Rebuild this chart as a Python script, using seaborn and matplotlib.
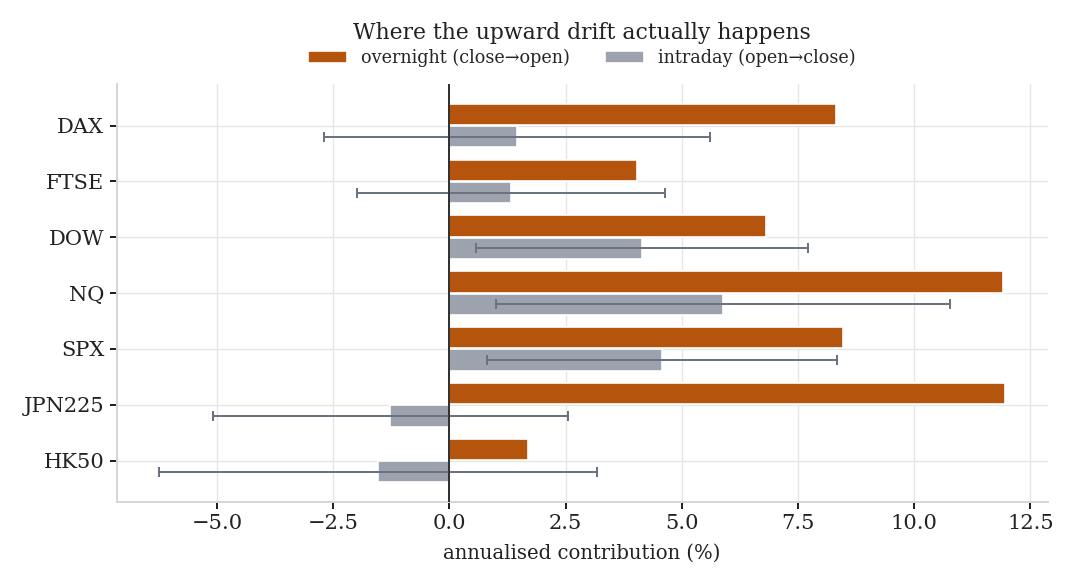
import numpy as np
import pandas as pd
import matplotlib
matplotlib.use("Agg")
import matplotlib.pyplot as plt
import seaborn as sns

# Index names, top to bottom
indices = ["DAX", "FTSE", "DOW", "NQ", "SPX", "JPN225", "HK50"]

# Annualised contribution (%)
overnight = [8.32, 4.04, 6.81, 11.90, 8.47, 11.96, 1.70]
intraday = [1.46, 1.33, 4.15, 5.89, 4.57, -1.27, -1.53]
# half-width of the intraday error bars
intraday_err = [4.15, 3.31, 3.57, 4.89, 3.77, 3.82, 4.71]

series_names = ["overnight (close\u2192open)", "intraday (open\u2192close)"]
colors = ["#b5540c", "#9ca3af"]

# long table for seaborn
df = pd.DataFrame({
    "index": indices * 2,
    "value": overnight + intraday,
    "session": [series_names[0]] * len(indices) + [series_names[1]] * len(indices),
})

sns.set_theme(style="whitegrid")
plt.rcParams["font.family"] = ["DejaVu Serif", "DejaVu Sans"]

fig, ax = plt.subplots(figsize=(9, 4.875), dpi=120)
fig.subplots_adjust(left=0.108, right=0.970, top=0.856, bottom=0.142)

sns.barplot(data=df, y="index", x="value", hue="session", order=indices,
            hue_order=series_names, palette=colors, orient="h",
            width=0.8, gap=0.05, errorbar=None, saturation=1, ax=ax, zorder=2)

# error bars on the intraday bars
ypos = np.arange(len(indices)) + 0.2
ax.errorbar(intraday, ypos, xerr=intraday_err, fmt="none", ecolor="#6b7280",
            elinewidth=1.2, capsize=3, capthick=1.2, zorder=3)

ax.axvline(0, color="#333333", lw=1.2, zorder=4)

ax.set_ylim(6.74, -0.74)
ax.set_xlim(-7.16, 12.87)

# title and legend centred over the axes
xc = (0.108 + 0.970) / 2
ax.legend_.remove()
handles, labels = ax.get_legend_handles_labels()
fig.legend(handles, labels, loc="upper center", bbox_to_anchor=(xc, 0.944),
           ncol=2, frameon=False, fontsize=10.6, handlelength=2.2)
fig.suptitle("Where the upward drift actually happens", x=xc, y=0.962,
             fontsize=13.1, color="#222222")

ax.set_xlabel("annualised contribution (%)", fontsize=11.8, color="#222222",
              labelpad=6)
ax.set_ylabel("")
ax.tick_params(axis="both", labelsize=12.6, colors="#222222",
               bottom=True, left=True, length=4, width=1.2)
ax.grid(True, color="#e6e6e6", lw=0.8)
ax.set_axisbelow(True)
sns.despine(ax=ax)
for s in ["left", "bottom"]:
    ax.spines[s].set_color("#d4d6da")
    ax.spines[s].set_linewidth(1.2)

plt.savefig("out.png", dpi=120)
plt.close()
